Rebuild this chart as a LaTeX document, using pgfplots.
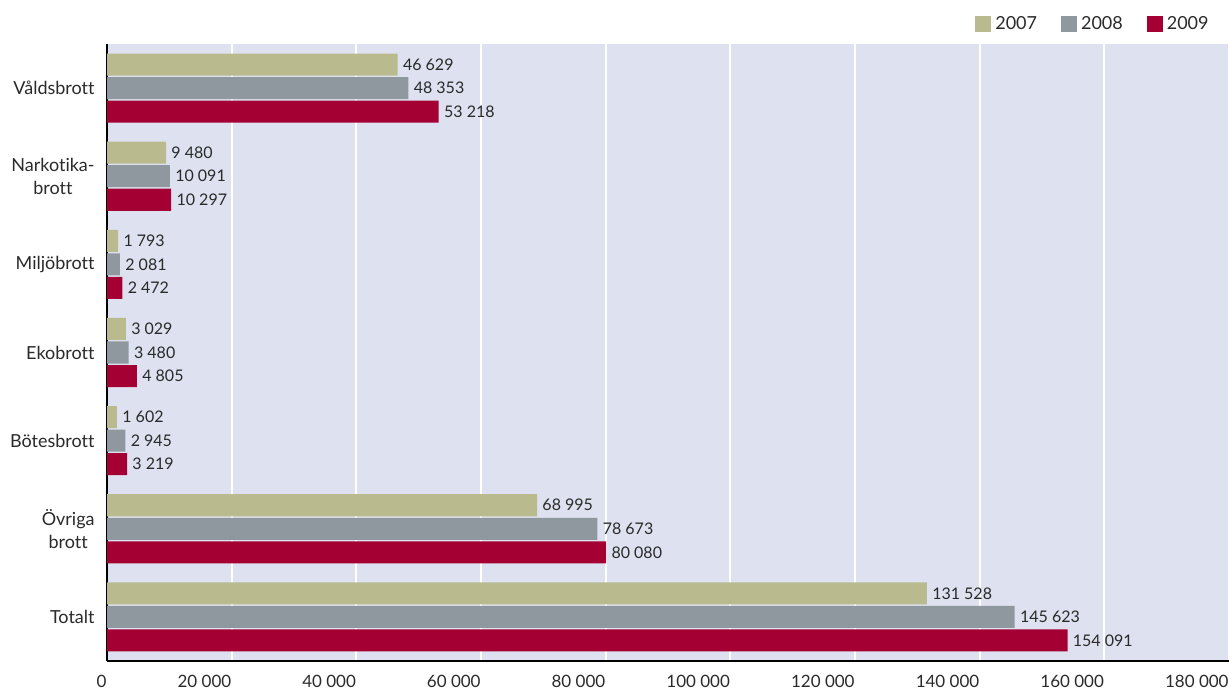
\documentclass[border=0pt]{standalone}
\usepackage{pgfplots}
\pgfplotsset{compat=1.18}
\usepackage{fontspec}
\setmainfont{Lato}[Ligatures={NoCommon}]
\definecolor{c07}{HTML}{B9BB8E}
\definecolor{c08}{HTML}{8F979F}
\definecolor{c09}{HTML}{A50034}
\definecolor{bg}{HTML}{DEE2F0}
\definecolor{txt}{HTML}{2A2A2A}
\begin{document}
\begin{tikzpicture}
\useasboundingbox (-53.5pt,-16.5pt) rectangle (561pt,330.5pt);
\begin{axis}[
  at={(0,0)}, anchor=south west,
  scale only axis, width=561pt, height=308.5pt,
  xbar, xmin=0, xmax=180000, ymin=-0.5, ymax=6.5, y dir=reverse,
  axis background/.style={fill=bg},
  axis x line*=bottom, axis y line*=left,
  x axis line style={line width=1pt, black},
  y axis line style={line width=1.3pt, black},
  xtick={0,20000,40000,60000,80000,100000,120000,140000,160000,180000},
  xticklabels={0,20 000,40 000,60 000,80 000,100 000,120 000,140 000,160 000,180 000},
  xticklabel style={anchor=north east, inner sep=0pt, yshift=-7pt, text=txt, font=\fontsize{8.5}{10}\selectfont},
  major tick length=0pt,
  xmajorgrids, grid style={white, line width=1pt},
  ytick={0,1,2,3,4,5,6},
  yticklabels={Våldsbrott,{Narkotika-\\brott},Miljöbrott,Ekobrott,Bötesbrott,{Övriga\\brott},Totalt},
  yticklabel style={align=center, inner sep=0pt, xshift=-6pt, text=txt, font=\fontsize{9}{11.5}\selectfont},
  bar width=0.25,
  nodes near coords, point meta=explicit symbolic,
  nodes near coords style={anchor=west, inner sep=0pt, xshift=2.5pt, text=txt, font=\fontsize{8}{9}\selectfont},
  legend columns=3,
  legend style={draw=none, fill=none, at={(1,1)}, anchor=east, xshift=-5pt, yshift=10pt,
    font=\fontsize{9}{10}\selectfont, text=txt,
    /tikz/every even column/.append style={column sep=10pt}},
  legend image code/.code={\fill[#1] (0pt,-4pt) rectangle (8pt,4pt);},
]
\addplot[fill=c07, draw=none, bar shift=-0.267] coordinates {
 (46629,0) [46 629] (9480,1) [9 480] (1793,2) [1 793] (3029,3) [3 029]
 (1602,4) [1 602] (68995,5) [68 995] (131528,6) [131 528]};
\addplot[fill=c08, draw=none, bar shift=0] coordinates {
 (48353,0) [48 353] (10091,1) [10 091] (2081,2) [2 081] (3480,3) [3 480]
 (2945,4) [2 945] (78673,5) [78 673] (145623,6) [145 623]};
\addplot[fill=c09, draw=none, bar shift=0.267] coordinates {
 (53218,0) [53 218] (10297,1) [10 297] (2472,2) [2 472] (4805,3) [4 805]
 (3219,4) [3 219] (80080,5) [80 080] (154091,6) [154 091]};
\legend{2007,2008,2009}
\end{axis}
\end{tikzpicture}
\end{document}
